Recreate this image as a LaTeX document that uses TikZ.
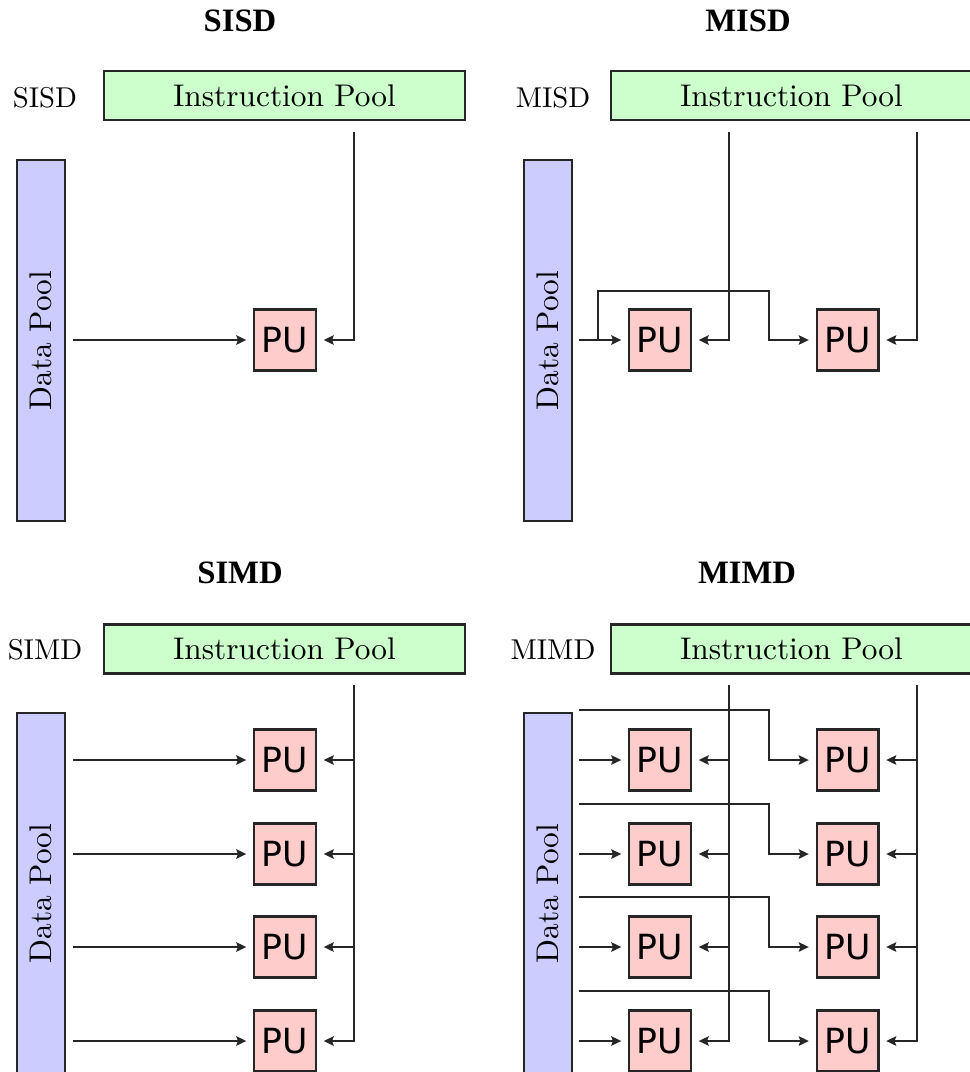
\documentclass[tikz,border=0pt]{standalone}
\usepackage{fontspec}
\newfontfamily\headfont{Liberation Serif}
\newfontfamily\pufont{DejaVu Sans}
\newfontfamily\poolfont{lmroman10-regular.otf}
\usetikzlibrary{arrows.meta,positioning,calc}
\tikzset{
    >={Stealth[length=7.5pt,width=7pt,inset=1.2pt]},
    every picture/.style={line width=1.8pt},
    pu/.style={rectangle,draw=black!85,fill=red!20,minimum width=46.2pt,minimum height=45.5pt,inner sep=0pt,font=\pufont\fontsize{26}{28}\selectfont},
    ipool/.style={rectangle,draw=black!85,fill=green!20,minimum width=270.5pt,minimum height=36.5pt,inner sep=0pt,font=\poolfont\fontsize{23.5}{26}\selectfont},
    dpool/.style={rectangle,draw=black!85,fill=blue!20,minimum width=270.5pt,minimum height=35.7pt,inner sep=0pt,rotate=90,font=\poolfont\fontsize{23.5}{26}\selectfont},
    heading/.style={font=\headfont\bfseries\fontsize{24.5}{28}\selectfont},
    tag/.style={font=\poolfont\fontsize{21.5}{24}\selectfont},
    bus/.style={->,draw=black!85,shorten >=5pt}
}
\begin{document}
\begin{tikzpicture}[x=0.75pt,y=-0.75pt]
    \useasboundingbox (0,0) rectangle (970,1072);
    % SISD
    \node[heading] (h1) at (240,21) {SISD};
    \node[tag] (t1) at (45,98) {SISD};
    \node[ipool] (ip1) at (284.5,95.5) {Instruction Pool};
    \node[dpool] (dp1) at (41,340.5) {Data Pool};
    \node[pu] (pu1) at (285,340) {PU};
    \coordinate (d1) at (73,340);
    \coordinate (i1) at (354,132);
    \draw[bus] (d1) -- (pu1);
    \draw[bus] (i1) |- (pu1);
    % MISD
    \node[heading] (h2) at (748,21) {MISD};
    \node[tag] (t2) at (553,98) {MISD};
    \node[ipool] (ip2) at (791.5,95.5) {Instruction Pool};
    \node[dpool] (dp2) at (548,340.5) {Data Pool};
    \node[pu] (pu2a) at (660,340) {PU};
    \node[pu] (pu2b) at (847.5,340) {PU};
    \coordinate (d2) at (579,340);
    \coordinate (b2) at (598,340);
    \coordinate (k2) at (769,291);
    \coordinate (i2a) at (729,132);
    \coordinate (i2b) at (917,132);
    \draw[bus] (d2) -- (pu2a);
    \draw[bus] (b2) |- (k2) |- (pu2b);
    \draw[bus] (i2a) |- (pu2a);
    \draw[bus] (i2b) |- (pu2b);
    % SIMD
    \node[heading] (h3) at (240,573) {SIMD};
    \node[tag] (t3) at (45,650) {SIMD};
    \node[ipool] (ip3) at (284.5,649) {Instruction Pool};
    \node[dpool] (dp3) at (41,893.5) {Data Pool};
    \coordinate (i3) at (354,685);
    \foreach \k/\y in {1/760,2/854,3/947,4/1041}{
        \node[pu] (pu3\k) at (285,\y) {PU};
        \coordinate (d3\k) at (73,\y);
        \draw[bus] (d3\k) -- (pu3\k);
    }
    \draw[bus] (i3) |- (pu34);
    \foreach \k in {1,2,3}
        \draw[bus] (i3 |- pu3\k) -- (pu3\k);
    % MIMD
    \node[heading] (h4) at (747,573) {MIMD};
    \node[tag] (t4) at (553,650) {MIMD};
    \node[ipool] (ip4) at (791.5,649) {Instruction Pool};
    \node[dpool] (dp4) at (548,893.5) {Data Pool};
    \coordinate (i4a) at (729,685);
    \coordinate (i4b) at (917,685);
    \foreach \k/\y in {1/760,2/854,3/947,4/1041}{
        \node[pu] (pu4a\k) at (660,\y) {PU};
        \node[pu] (pu4b\k) at (847.5,\y) {PU};
        \coordinate (d4\k) at (579,\y);
        \coordinate (m4\k) at (579,\y-50);
        \draw[bus] (d4\k) -- (pu4a\k);
        \draw[bus] (m4\k) -| ([xshift=-35pt]pu4b\k.west) -- (pu4b\k);
    }
    \draw[bus] (i4a) |- (pu4a4);
    \draw[bus] (i4b) |- (pu4b4);
    \foreach \k in {1,2,3}{
        \draw[bus] (i4a |- pu4a\k) -- (pu4a\k);
        \draw[bus] (i4b |- pu4b\k) -- (pu4b\k);
    }
\end{tikzpicture}
\end{document}
